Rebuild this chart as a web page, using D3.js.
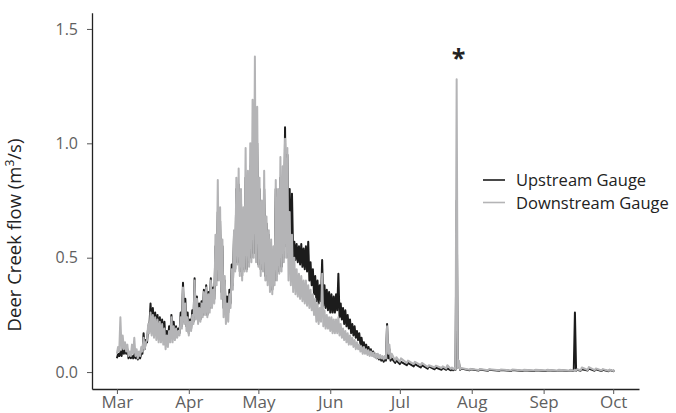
<!DOCTYPE html>
<html>
<head>
<meta charset="utf-8">
<script src="https://cdn.jsdelivr.net/npm/d3@7"></script>
<style>
  body { margin: 0; background: #fff; }
  svg text { font-family: "Open Sans", sans-serif; }
</style>
</head>
<body>
<div id="chart"></div>
<script>
// ── Data (days since 1 March; diurnal low / high per sample) ────────────────
const sampleDays = [
  ...d3.range(0, 119),
  120, 122, 125, 128, 131, 134, 137, 140, 142, 144, 145, 146, 147, 148, 152, 156,
  160, 165, 170, 175, 180, 185, 190, 195, 197, 198, 200, 203, 206, 209, 212, 214
];

const upLo = [
  .06, .07, .07, .08, .08, .06, .06, .06, .06, .055,
  .06, .08, .10, .13, .20, .20, .19, .18, .17, .16,
  .15, .12, .13, .15, .15, .15, .16, .17, .20, .22,
  .20, .17, .19, .22, .24, .22, .23, .25, .26, .25,
  .28, .30, .32, .40, .42, .35, .28, .25, .26, .30,
  .38, .45, .48, .44, .42, .45, .45, .48, .50, .52,
  .50, .47, .45, .46, .42, .40, .38, .36, .40, .42,
  .44, .46, .50, .55, .50, .52, .50, .49, .48, .47,
  .46, .45, .44, .40, .38, .34, .31, .30, .31, .29,
  .28, .27, .26, .26, .26, .27, .24, .23, .21, .20,
  .19, .17, .16, .15, .14, .12, .11, .10, .09, .085,
  .075, .07, .06, .055, .05, .045, .05, .06, .05,
  .04, .035, .03, .025, .02, .015, .012, .01, .01, .008, .008, .01, .02, .01, .008, .007,
  .006, .006, .005, .005, .005, .005, .005, .005, .005, .006, .006, .007, .006, .005, .004, .004
];
const upHi = [
  .08, .09, .10, .10, .10, .08, .07, .08, .07, .07,
  .08, .17, .14, .20, .30, .28, .26, .25, .24, .23,
  .22, .18, .20, .25, .22, .20, .19, .26, .39, .32,
  .26, .23, .27, .41, .33, .30, .31, .36, .38, .35,
  .41, .37, .55, .70, .66, .55, .40, .33, .36, .47,
  .60, .80, .82, .75, .70, .85, .80, .90, 1.0, 1.10,
  1.0, .80, .70, .80, .65, .60, .55, .52, .80, .75,
  .85, .82, 1.07, .95, .80, .78, .57, .56, .55, .56,
  .54, .55, .57, .48, .45, .42, .40, .38, .49, .38,
  .36, .35, .34, .33, .34, .43, .30, .28, .27, .25,
  .23, .21, .20, .18, .17, .15, .13, .12, .11, .10,
  .09, .08, .07, .065, .06, .055, .21, .10, .06,
  .05, .045, .04, .035, .03, .025, .02, .018, .016, .014, .014, .75, .04, .015, .012, .011,
  .010, .009, .009, .008, .008, .008, .008, .008, .26, .010, .012, .015, .012, .010, .009, .008
];
const downLo = [
  .08, .09, .10, .10, .09, .07, .07, .08, .07, .06,
  .07, .09, .10, .14, .17, .16, .15, .14, .13, .13,
  .12, .10, .11, .13, .13, .14, .15, .16, .19, .21,
  .18, .16, .18, .21, .23, .21, .22, .24, .25, .24,
  .26, .28, .30, .38, .40, .32, .24, .21, .22, .28,
  .36, .44, .47, .42, .40, .44, .44, .46, .48, .50,
  .48, .46, .42, .44, .40, .38, .35, .34, .38, .40,
  .43, .44, .48, .50, .40, .38, .35, .34, .33, .32,
  .31, .30, .29, .28, .27, .25, .22, .21, .22, .20,
  .19, .19, .18, .17, .17, .17, .16, .15, .14, .13,
  .12, .12, .11, .10, .10, .09, .08, .08, .075, .07,
  .07, .065, .06, .06, .06, .055, .06, .08, .06,
  .05, .045, .04, .035, .03, .022, .02, .018, .016, .014, .013, .012, .02, .012, .010, .009,
  .008, .008, .007, .007, .007, .007, .006, .006, .006, .007, .008, .009, .008, .007, .006, .005
];
const downHi = [
  .11, .24, .16, .13, .12, .09, .12, .15, .10, .09,
  .11, .15, .13, .21, .26, .25, .24, .23, .22, .21,
  .19, .16, .18, .24, .20, .19, .18, .24, .37, .30,
  .24, .22, .25, .40, .32, .28, .30, .35, .37, .34,
  .40, .36, .60, .84, .72, .58, .42, .30, .34, .45,
  .62, .85, .89, .80, .72, .98, .88, 1.0, 1.19, 1.38,
  1.16, .85, .75, .88, .68, .62, .58, .55, .84, .80,
  .94, .90, 1.02, .98, .70, .60, .50, .45, .43, .42,
  .40, .40, .38, .36, .34, .32, .30, .28, .43, .27,
  .25, .24, .24, .23, .23, .24, .21, .19, .18, .17,
  .16, .15, .14, .13, .12, .11, .11, .10, .095, .09,
  .085, .08, .08, .075, .07, .07, .20, .12, .08,
  .065, .06, .05, .045, .04, .03, .028, .025, .03, .02, .018, 1.28, .05, .018, .014, .013,
  .012, .011, .011, .010, .010, .010, .010, .010, .010, .012, .020, .022, .016, .013, .011, .010
];

const yTicks = [0, 0.5, 1.0, 1.5];
const seriesNames = ['Upstream Gauge', 'Downstream Gauge'];
const seriesColors = ['#1c1c1c', '#b4b4b6'];

// ── Layout ───────────────────────────────────────────────────────────────────
const W = 676, H = 413;
const start = Date.UTC(2014, 2, 1);
const toDate = d => new Date(start + d * 864e5);

const x = d3.scaleUtc()
  .domain([toDate(-10.74), toDate(225.13)])
  .range([92, 639]);

const y = d3.scaleLinear()
  .domain([-0.074, 1.571])
  .range([389, 12.7]);

const svg = d3.select('#chart').append('svg')
  .attr('width', W)
  .attr('height', H);

// low at the start of the day, high half a day later
function zigzag(lo, hi) {
  const pts = [];
  sampleDays.forEach((d, i) => {
    pts.push({ d, v: lo[i] });
    pts.push({ d: d + 0.5, v: hi[i] });
  });
  return pts;
}

const line = d3.line()
  .x(p => x(toDate(p.d)))
  .y(p => y(p.v));

// Upstream first, downstream drawn over it
[[upLo, upHi], [downLo, downHi]].forEach(([lo, hi], i) => {
  svg.append('path')
    .datum(zigzag(lo, hi))
    .attr('fill', 'none')
    .attr('stroke', seriesColors[i])
    .attr('stroke-width', 2)
    .attr('stroke-linejoin', 'round')
    .attr('d', line);
});

// ── Axes ─────────────────────────────────────────────────────────────────────
const months = d3.utcMonth.range(toDate(0), toDate(215));

svg.append('g')
  .attr('transform', 'translate(0,389)')
  .call(d3.axisBottom(x).tickValues(months).tickFormat(d3.utcFormat('%b')).tickSize(5).tickSizeOuter(0).tickPadding(2))
  .call(ax => ax.select('.domain').attr('stroke', '#222').attr('stroke-width', 1.3))
  .call(ax => ax.selectAll('line').attr('stroke', '#555'))
  .call(ax => ax.selectAll('text').attr('fill', '#5f5f5f').style('font-size', '17px'));

svg.append('g')
  .attr('transform', 'translate(92,0)')
  .call(d3.axisLeft(y).tickValues(yTicks).tickFormat(d3.format('.1f')).tickSize(5).tickSizeOuter(0).tickPadding(9))
  .call(ax => ax.select('.domain').attr('stroke', '#222').attr('stroke-width', 1.3))
  .call(ax => ax.selectAll('line').attr('stroke', '#555'))
  .call(ax => ax.selectAll('text').attr('fill', '#5f5f5f').style('font-size', '16px'));

// y label
const yl = svg.append('text')
  .attr('transform', 'translate(21,235) rotate(-90)')
  .attr('text-anchor', 'middle')
  .attr('fill', '#222')
  .style('font-size', '18.5px');
yl.append('tspan').text('Deer Creek flow (m');
yl.append('tspan').attr('dy', -7).style('font-size', '12px').text('3');
yl.append('tspan').attr('dy', 7).text('/s)');

// asterisk above the July storm spike
svg.append('text')
  .attr('x', x(toDate(146.5)) + 2)
  .attr('y', 67)
  .attr('text-anchor', 'middle')
  .attr('fill', '#222')
  .style('font-size', '25px')
  .style('font-weight', 'bold')
  .text('*');

// ── Legend ───────────────────────────────────────────────────────────────────
const legend = svg.append('g').attr('transform', 'translate(483,180)');
seriesNames.forEach((name, i) => {
  legend.append('line')
    .attr('x1', 0).attr('x2', 22)
    .attr('y1', i * 22.5).attr('y2', i * 22.5)
    .attr('stroke', seriesColors[i])
    .attr('stroke-width', 1.6);
  legend.append('text')
    .attr('x', 33)
    .attr('y', i * 22.5 + 6)
    .attr('fill', '#222')
    .style('font-size', '16.5px')
    .text(name);
});
</script>
</body>
</html>
